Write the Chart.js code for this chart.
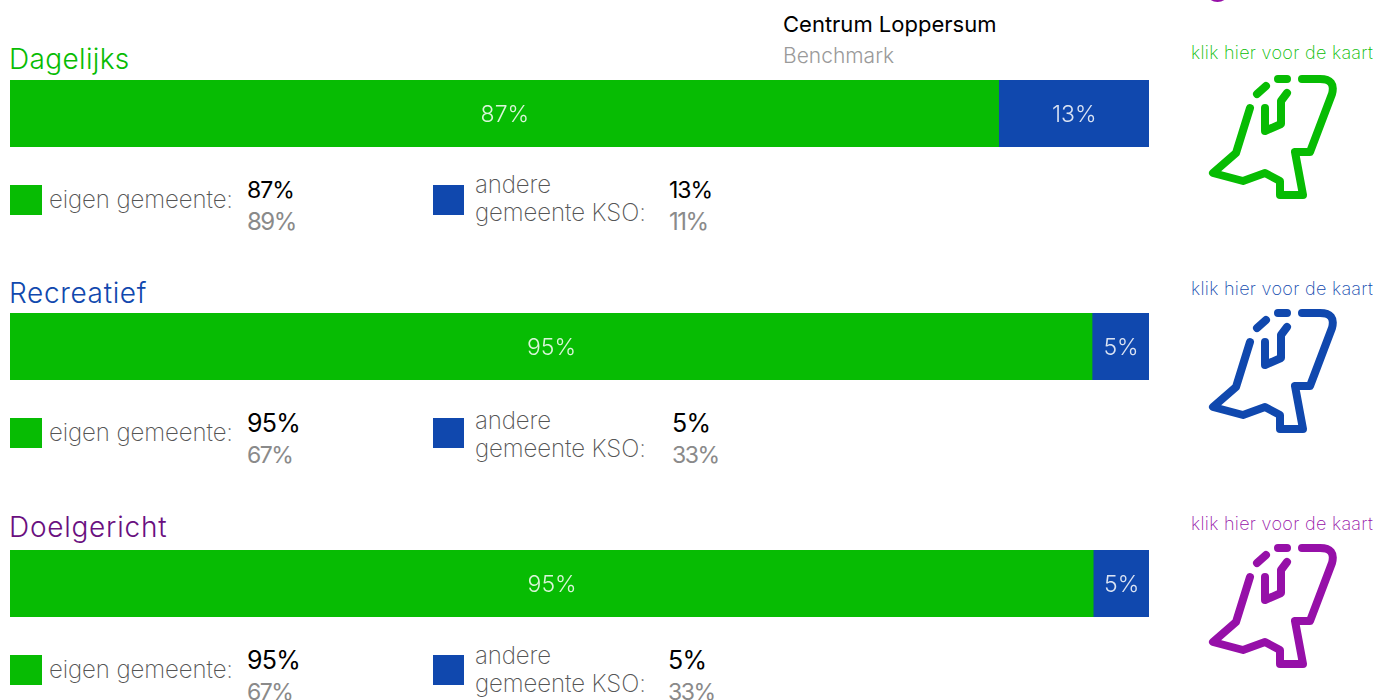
<!DOCTYPE html>
<html>
<head>
<meta charset="utf-8">
<script src="https://cdn.jsdelivr.net/npm/chart.js@4"></script>
<style>
html, body { margin: 0; padding: 0; background: #fff; overflow: hidden; }
body { width: 1375px; height: 700px; position: relative; font-family: Inter, sans-serif; }
.t { position: absolute; white-space: nowrap; font-weight: 300; line-height: 28px; }
.bar { position: absolute; left: 10px; width: 1139px; height: 67px; }
.sw { position: absolute; height: 30px; }
svg { position: absolute; left: 1200px; width: 140px; height: 130px; fill: none; stroke-width: 8; stroke-linecap: round; stroke-linejoin: round; }
</style>
</head>
<body>
<script>
var categories = ["eigen gemeente", "andere gemeente KSO"];
var segmentColors = ["#07bc03", "#1048ae"];
var groupNames = ["Dagelijks", "Recreatief", "Doelgericht"];
var groupColors = ["#07bc03", "#1048ae", "#6a0f7f"];
var iconColors = ["#07bc03", "#1048ae", "#9610a8"];
var eigenValues = [86.8, 95, 95.1];
var andereValues = [13.2, 5, 4.9];
var eigenLabels = ["87%", "95%", "95%"];
var andereLabels = ["13%", "5%", "5%"];
var eigenBenchmark = ["89%", "67%", "67%"];
var andereBenchmark = ["11%", "33%", "33%"];

var barTops = [80, 313, 550];
var titleTops = [45, 279, 513];
var titleSpacing = [0.35, 0.65, 0.75];
var legendTops = [185, 418, 655];
var iconTops = [74.5, 308.5, 543.5];
var linkTops = [39, 275, 510];
var andereLeft = [669, 672, 668];
var andereTextTops = [170, 406, 641];
var topSizes = [23, 25, 25];
var topSpacing = [-1, -0.7, -0.7];
var benchSizes = [24, 23, 23];
var benchSpacing = [-1.5, -1.5, -1.5];

function addText(str, left, top, size, color, weight, spacing) {
    var el = document.createElement('div');
    el.className = 't';
    el.textContent = str;
    el.style.left = left + 'px';
    el.style.top = top + 'px';
    el.style.fontSize = size + 'px';
    el.style.color = color;
    if (weight) el.style.fontWeight = weight;
    if (spacing) el.style.letterSpacing = spacing + 'px';
    document.body.appendChild(el);
}

function addSwatch(left, top, width, color) {
    var el = document.createElement('div');
    el.className = 'sw';
    el.style.left = left + 'px';
    el.style.top = top + 'px';
    el.style.width = width + 'px';
    el.style.background = color;
    document.body.appendChild(el);
}

function addIcon(top, color) {
    var wrap = document.createElement('div');
    wrap.innerHTML = '<svg viewBox="1200 70 140 130" style="top:' + (top - 4) + 'px;stroke:' + color + '">' +
        '<path d="M1250 107L1236 152L1213 172L1243 180L1265 172L1280 180L1280 194L1303 194L1295 151L1310 151L1332 93Q1336 78 1320 78L1302 78"/>' +
        '<path d="M1278 78L1287 78M1257 93L1266 85"/>' +
        '<path d="M1265 107L1265 130L1281 123L1281 100L1287 92"/></svg>';
    document.body.appendChild(wrap.firstChild);
}

// bottom of the icon from the block above, cut off by the window
function addTopArc(color) {
    var el = document.createElement('div');
    el.style.cssText = 'position:absolute;left:1205px;top:-23px;width:25px;height:25px;border-radius:50%;background:' + color;
    document.body.appendChild(el);
}

// prints the rounded label in the middle of each segment
var segmentLabels = {
    id: 'segmentLabels',
    afterDatasetsDraw: function(chart) {
        var ctx = chart.ctx;
        ctx.save();
        ctx.font = '300 23px Inter';
        ctx.fillStyle = 'rgba(255,255,255,0.85)';
        ctx.textAlign = 'center';
        ctx.textBaseline = 'middle';
        chart.data.datasets.forEach(function(ds, d) {
            var bar = chart.getDatasetMeta(d).data[0];
            ctx.fillText(ds.shownLabel, (bar.base + bar.x) / 2 + 0.5, bar.y + 2);
        });
        ctx.restore();
    }
};

function drawBar(i) {
    var canvas = document.createElement('canvas');
    canvas.className = 'bar';
    canvas.style.top = barTops[i] + 'px';
    canvas.width = 1139;
    canvas.height = 67;
    document.body.appendChild(canvas);
    new Chart(canvas.getContext('2d'), {
        type: 'bar',
        data: {
            labels: [groupNames[i]],
            datasets: [{
                label: categories[0],
                data: [eigenValues[i]],
                shownLabel: eigenLabels[i],
                backgroundColor: segmentColors[0]
            }, {
                label: categories[1],
                data: [andereValues[i]],
                shownLabel: andereLabels[i],
                backgroundColor: segmentColors[1]
            }]
        },
        options: {
            indexAxis: 'y',
            responsive: false,
            animation: false,
            layout: { padding: 0 },
            categoryPercentage: 1,
            barPercentage: 1,
            plugins: { legend: { display: false }, tooltip: { enabled: false } },
            scales: {
                x: { stacked: true, min: 0, max: 100, display: false },
                y: { stacked: true, display: false }
            }
        },
        plugins: [segmentLabels]
    });
}

addText("Centrum Loppersum", 783, 10, 22, "#000", 400);
addText("Benchmark", 783, 42, 21, "#9a9a9a");
addTopArc(iconColors[2]);

for (var i = 0; i < groupNames.length; i++) {
    drawBar(i);
    var lt = legendTops[i];
    var at = andereTextTops[i];
    addText(groupNames[i], 9, titleTops[i], 28, groupColors[i], 300, titleSpacing[i]);
    addSwatch(10, lt, 32, segmentColors[0]);
    addText("eigen gemeente:", 49, lt + 1, 24, "#555", 200, -0.1);
    addText(eigenLabels[i], 247, lt - 9, topSizes[i], "#000", 400, topSpacing[i]);
    addText(eigenBenchmark[i], 247, lt + 23, benchSizes[i], "#8a8a8a", 400, benchSpacing[i]);
    addSwatch(433, lt, 31, segmentColors[1]);
    addText("andere", 475, at + 1, 24, "#555", 200, -0.1);
    addText("gemeente KSO:", 475, at + 29, 24, "#555", 200, -0.1);
    addText(andereLabels[i], andereLeft[i], lt - 9, topSizes[i], "#000", 400, topSpacing[i]);
    addText(andereBenchmark[i], andereLeft[i], lt + 23, benchSizes[i], "#8a8a8a", 400, benchSpacing[i]);
    addText("klik hier voor de kaart", 1191, linkTops[i], 18, iconColors[i], 200, 0.3);
    addIcon(iconTops[i], iconColors[i]);
}
</script>
</body>
</html>
